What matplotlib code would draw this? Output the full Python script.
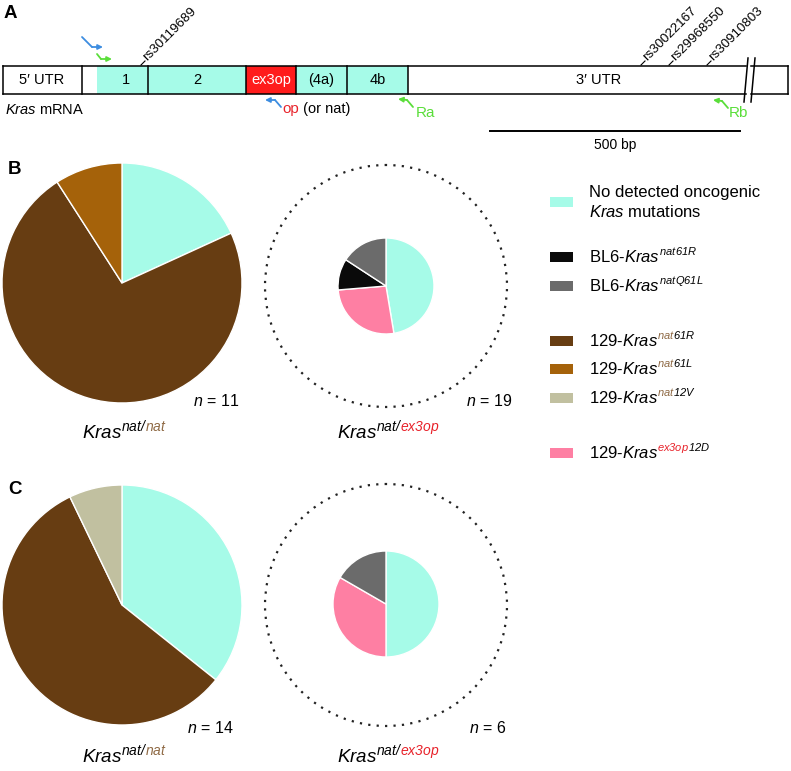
import matplotlib
matplotlib.use('Agg')
import matplotlib.pyplot as plt
from matplotlib import font_manager
from matplotlib.mathtext import MathTextParser
from matplotlib.patches import Rectangle, Circle

plt.rcParams['font.family'] = ['Liberation Sans', 'DejaVu Sans']
# math parts hold the italic gene names and superscripts
plt.rcParams['mathtext.fontset'] = 'custom'
plt.rcParams['mathtext.it'] = 'Liberation Sans:italic'
plt.rcParams['mathtext.rm'] = 'Liberation Sans:italic'
plt.rcParams['mathtext.default'] = 'it'
DPI = 100

# ---- data ----
CYAN = '#a6fbe8'
BLACK = '#0a0a0a'
GRAY = '#6b6b6b'
BROWN = '#673d12'
ORANGE = '#a5620a'
BEIGE = '#c1c0a0'
PINK = '#fe7fa3'
RED = '#e8222a'
NATBROWN = '#8f6a45'
BLUE = '#3d8de0'
GREEN = '#5ade3a'

# legend entries: prefix, coloured part of the superscript, rest of it
legend_prefix = ['BL6-', 'BL6-', '129-', '129-', '129-', '129-']
legend_sup_head = ['nat', 'nat', 'nat', 'nat', 'nat', 'ex3op']
legend_sup_tail = ['61R', 'Q61L', '61R', '61L', '12V', '12D']
legend_head_colors = [BLACK, BLACK, NATBROWN, NATBROWN, NATBROWN, RED]
legend_colors = [BLACK, GRAY, BROWN, ORANGE, BEIGE, PINK]

# pie counts
b_natnat = [2, 8, 1]
b_natnat_colors = [CYAN, BROWN, ORANGE]
b_natex3op = [9, 5, 2, 3]
b_natex3op_colors = [CYAN, PINK, BLACK, GRAY]
c_natnat = [5, 8, 1]
c_natnat_colors = [CYAN, BROWN, BEIGE]
c_natex3op = [3, 2, 1]
c_natex3op_colors = [CYAN, PINK, GRAY]
n_values = ['11', '19', '14', '6']

# gene map segments (label, start, end, fill, text colour, label x)
segments = [('5\u2032 UTR', 3, 82, 'white', 'black', 42),
            ('', 82, 97, 'white', 'black', 0),
            ('1', 97, 148, CYAN, 'black', 126),
            ('2', 148, 246, CYAN, 'black', 197),
            ('ex3op', 246, 296, '#ff1c1c', 'white', 271),
            ('(4a)', 296, 347, CYAN, 'black', 321),
            ('4b', 347, 408, CYAN, 'black', 378),
            ('3\u2032 UTR', 408, 746, 'white', 'black', 599)]
snps = ['rs30119689', 'rs30022167', 'rs29968550', 'rs30910803']
snp_x = [141, 641, 669, 707]

fig = plt.figure(figsize=(7.91, 7.71), dpi=DPI)
ax = fig.add_axes([0, 0, 1, 1])
renderer = fig.canvas.get_renderer()
mtp = MathTextParser('path')


def advance(s, size):
    # pen advance in pixels: mathtext box width, or glyph advances for plain text
    prop = font_manager.FontProperties(family=['Liberation Sans', 'DejaVu Sans'], size=size)
    if '$' in s:
        return mtp.parse(s, DPI, prop).width
    w1 = renderer.get_text_width_height_descent('|' + s + '|', prop, ismath=False)[0]
    w0 = renderer.get_text_width_height_descent('||', prop, ismath=False)[0]
    return w1 - w0


def chain(x, y, parts):
    # parts: (text, colour, size, rise in px above the main baseline)
    for s, c, sz, rise in parts:
        ax.text(x, y - rise, s, color=c, fontsize=sz, ha='left', va='baseline')
        x += advance(s, sz)
    return x


def bent_arrow(pts, color):
    xs, ys = zip(*pts)
    ax.plot(xs[:-1], ys[:-1], color=color, lw=1.3, solid_capstyle='round')
    ax.annotate('', xy=pts[-1], xytext=pts[-2],
                arrowprops=dict(arrowstyle='-|>', color=color, lw=1.3,
                                mutation_scale=7, shrinkA=0, shrinkB=0))


# ---- panel A ----
ax.text(4, 14, 'A', fontsize=13.5, fontweight='bold', va='center')
top, bot = 66, 94
for lab, x0, x1, fc, tc, lx in segments:
    ax.add_patch(Rectangle((x0, top), x1 - x0, bot - top, facecolor=fc, edgecolor='none'))
    if lab:
        ax.text(lx, 80, lab, ha='center', va='center', fontsize=10.5, color=tc)
ax.add_patch(Rectangle((751, top), 788 - 751, bot - top, facecolor='white', edgecolor='none'))
for yy in (top, bot):
    ax.plot([3, 746], [yy, yy], color='black', lw=1.1)
    ax.plot([751, 788], [yy, yy], color='black', lw=1.1)
for xx in [3, 82, 148, 246, 296, 347, 408, 788]:
    ax.plot([xx, xx], [top, bot], color='black', lw=1.1)
ax.plot([748, 744], [58, 102], color='black', lw=1.1)
ax.plot([755, 751], [58, 102], color='black', lw=1.1)

for name, sx in zip(snps, snp_x):
    ax.plot([sx, sx + 4], [65, 61], color='black', lw=0.8)
    ax.text(sx + 6, 61, name, rotation=45, rotation_mode='anchor', ha='left',
            va='baseline', fontsize=9.6)

ax.text(5, 114, r'$Kras$ mRNA', fontsize=10.5, va='baseline')

bent_arrow([(82, 37), (92, 47), (103, 47)], BLUE)
bent_arrow([(97, 54), (101, 59), (112, 59)], GREEN)
bent_arrow([(281, 107), (275, 100), (265, 100)], BLUE)
bent_arrow([(413, 107), (407, 100), (398, 99)], GREEN)
bent_arrow([(728, 108), (722, 101), (713, 100)], GREEN)

chain(282, 113, [('op', RED, 10.8, 0), (' (or nat)', 'black', 10.5, 0)])
ax.text(416, 117, 'Ra', color=GREEN, fontsize=11, va='baseline')
ax.text(729, 117, 'Rb', color=GREEN, fontsize=11, va='baseline')

ax.plot([490, 740], [131, 131], color='black', lw=1.4)
ax.text(615, 145, '500 bp', ha='center', va='center', fontsize=10)

# ---- pies ----
wp = dict(edgecolor='white', linewidth=1)


def pie(vals, cols, cx, cy, r):
    ax.pie(vals, colors=cols, center=(cx, cy), radius=r, startangle=-90,
           counterclock=True, wedgeprops=wp, frame=True)


pie(b_natnat, b_natnat_colors, 122, 283, 120)
pie(b_natex3op, b_natex3op_colors, 386, 286, 48)
pie(c_natnat, c_natnat_colors, 122, 605, 120)
pie(c_natex3op, c_natex3op_colors, 386, 604, 53)
for cy in (286, 605):
    ax.add_patch(Circle((386, cy), 121, fill=False, edgecolor='#222222', lw=1.6,
                        linestyle=(0.5, (1, 2.8))))

ax.text(8, 170, 'B', fontsize=13.5, fontweight='bold', va='center')
ax.text(8, 490, 'C', fontsize=13.5, fontweight='bold', va='center')

n_pos = [(193, 406), (466, 406), (187, 733), (469, 733)]
for (nx, ny), nv in zip(n_pos, n_values):
    ax.text(nx, ny, r'$n$ = ' + nv, fontsize=11.5, va='baseline')


def kras_label(x, y, second, second_col):
    chain(x, y, [(r'$Kras$', 'black', 13.5, 0), (r'$nat/$', 'black', 10, 7),
                 ('$' + second + '$', second_col, 10, 7)])


kras_label(82, 438, 'nat', NATBROWN)
kras_label(337, 438, 'ex3op', RED)
kras_label(82, 762, 'nat', NATBROWN)
kras_label(337, 762, 'ex3op', RED)

# ---- legend ----
ax.add_patch(Rectangle((550, 197), 23, 10, facecolor=CYAN, edgecolor='none'))
ax.text(589, 197, 'No detected oncogenic', fontsize=12, va='baseline')
ax.text(589, 217, r'$Kras$ mutations', fontsize=12, va='baseline')
rows_y = [257, 286, 341, 369, 398, 453]
for ry, pre, head, tail, hc, col in zip(rows_y, legend_prefix, legend_sup_head,
                                        legend_sup_tail, legend_head_colors, legend_colors):
    ax.add_patch(Rectangle((550, ry - 5), 23, 10, facecolor=col, edgecolor='none'))
    chain(589, ry + 5, [(pre + r'$Kras$', 'black', 12, 0),
                        ('$' + head + '$', hc, 8, 7),
                        ('$' + tail + '$', 'black', 8, 7)])

ax.set_xlim(0, 791)
ax.set_ylim(771, 0)
ax.set_aspect('auto')
ax.axis('off')
fig.savefig('out.png', dpi=DPI)
